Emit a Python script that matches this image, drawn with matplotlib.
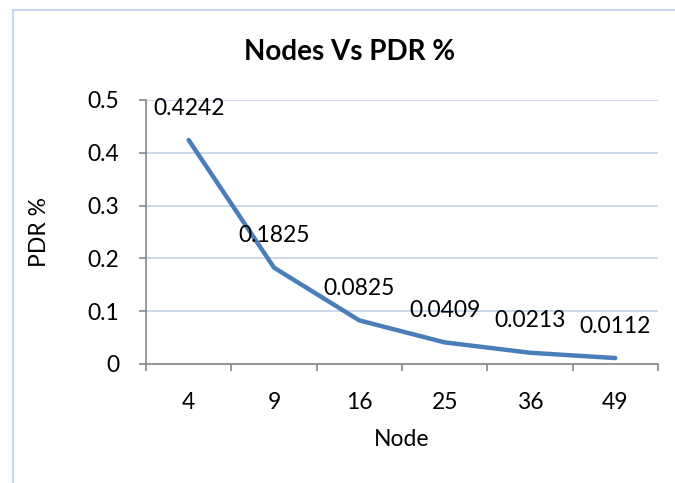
import matplotlib
matplotlib.use("Agg")
import matplotlib.pyplot as plt
from matplotlib.lines import Line2D
import numpy as np

nodes = ["4", "9", "16", "25", "36", "49"]
pdr = [0.4242, 0.1825, 0.0825, 0.0409, 0.0213, 0.0112]
y_ticks = [0, 0.1, 0.2, 0.3, 0.4, 0.5]
y_tick_labels = ["0", "0.1", "0.2", "0.3", "0.4", "0.5"]

plt.rcParams["font.family"] = ["Lato", "DejaVu Sans"]
fs = 16.5

fig = plt.figure(figsize=(6.75, 4.83), dpi=100)
ax = fig.add_axes([0.2163, 0.2464, 0.7585, 0.5466])

x = np.arange(len(nodes))
ax.plot(x, pdr, color="#4a7ebb", linewidth=3.2, solid_capstyle="round")

for xi, v in zip(x, pdr):
    ax.annotate(str(v), (xi, v), xytext=(0, 23), textcoords="offset points",
                ha="center", va="center", fontsize=fs)

ax.set_xlim(-0.5, len(nodes) - 0.5)
ax.set_ylim(0, 0.5)
ax.set_yticks(y_ticks)
ax.set_yticklabels(y_tick_labels, fontsize=fs)
ax.set_xticks(x)
ax.set_xticklabels(nodes, fontsize=fs)
ax.set_xticks(np.arange(-0.5, len(nodes)), minor=True)
ax.tick_params(axis="x", which="major", length=0, pad=20)
ax.tick_params(axis="x", which="minor", length=5, color="#868686", width=1.2, direction="out")
ax.tick_params(axis="y", length=5, color="#868686", width=1.2, pad=14)

ax.grid(axis="y", color="#c3d1ea", linewidth=1.2)
ax.set_axisbelow(True)
for s in ["top", "right"]:
    ax.spines[s].set_visible(False)
for s in ["left", "bottom"]:
    ax.spines[s].set_color("#868686")
    ax.spines[s].set_linewidth(1.2)

ax.set_xlabel("Node", fontsize=fs, labelpad=12)
ax.set_ylabel("PDR %", fontsize=fs, labelpad=27)
fig.text(0.518, 0.893, "Nodes Vs PDR %", ha="center", va="center",
         fontsize=20, fontweight="bold")

# chart frame
fig.add_artist(Line2D([13 / 675, 13 / 675], [0, 1 - 10 / 483], color="#c6d6ee", linewidth=1.5))
fig.add_artist(Line2D([13 / 675, 1], [1 - 10 / 483, 1 - 10 / 483], color="#c6d6ee", linewidth=1.5))

fig.savefig("out.png", dpi=100)
